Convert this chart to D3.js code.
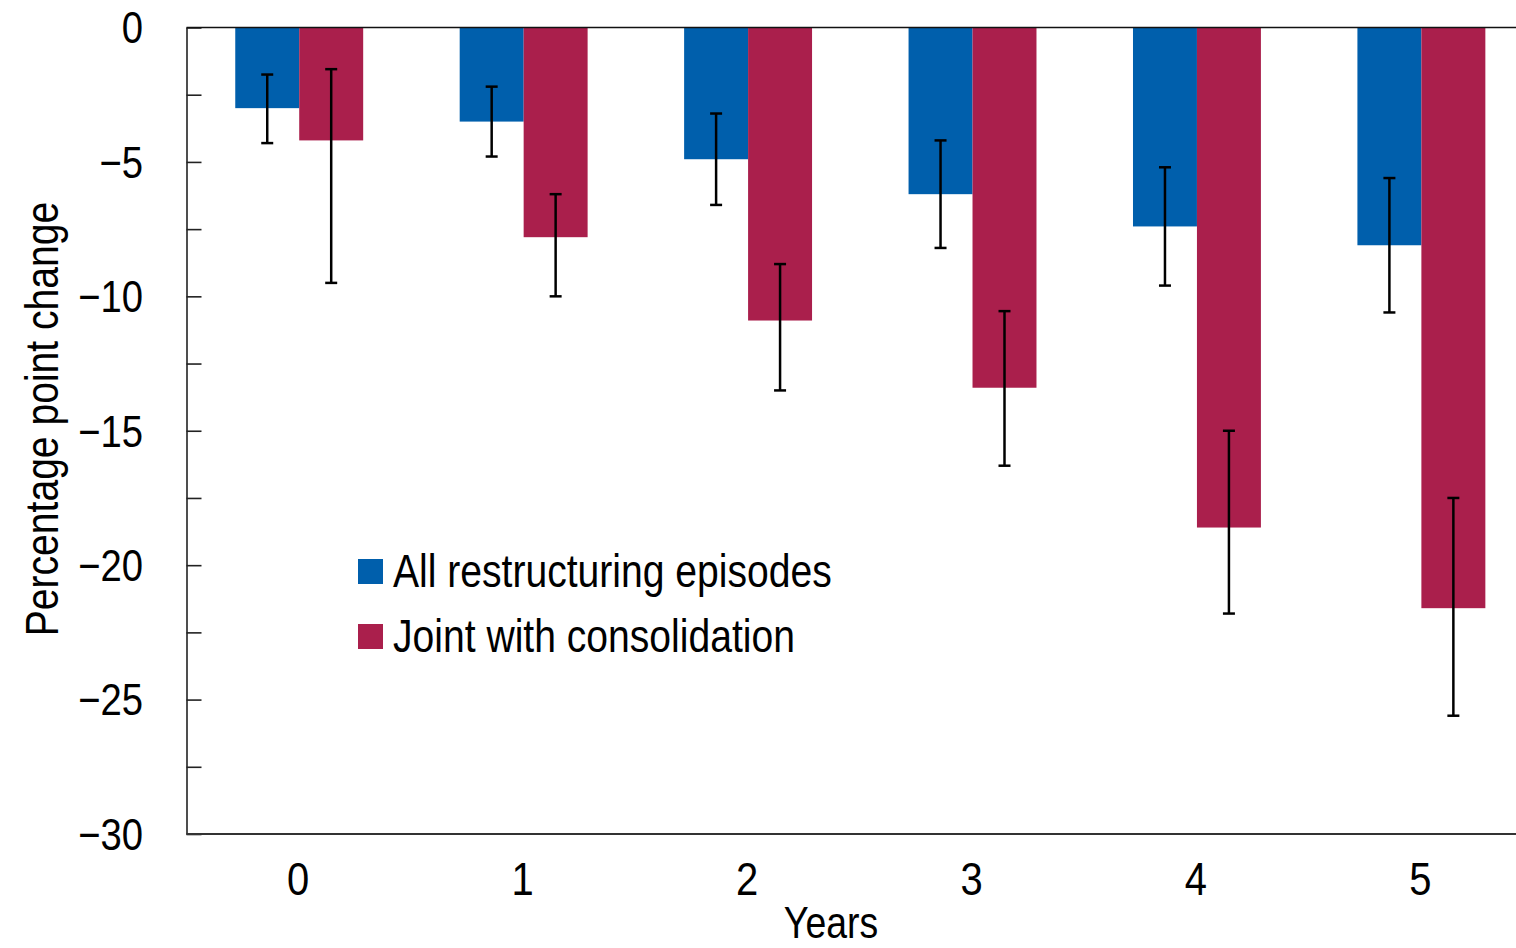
<!DOCTYPE html>
<html>
<head>
<meta charset="utf-8">
<script src="https://cdn.jsdelivr.net/npm/d3@7/dist/d3.min.js"></script>
<style>
  html, body { margin: 0; padding: 0; background: #fff; }
  svg { display: block; }
  text { font-family: "Liberation Sans", Arial, sans-serif; fill: #000; }
</style>
</head>
<body>
<script>
// Years after the restructuring episode
const years = ["0", "1", "2", "3", "4", "5"];

// All restructuring episodes: point estimate and confidence band
const allEpisodes     = [-3.0, -3.5, -4.9, -6.2, -7.4, -8.1];
const allEpisodesHigh = [-1.75, -2.2, -3.2, -4.2, -5.2, -5.6];
const allEpisodesLow  = [-4.3, -4.8, -6.6, -8.2, -9.6, -10.6];

// Restructuring joint with fiscal consolidation
const jointConsol     = [-4.2, -7.8, -10.9, -13.4, -18.6, -21.6];
const jointConsolHigh = [-1.55, -6.2, -8.8, -10.55, -15.0, -17.5];
const jointConsolLow  = [-9.5, -10.0, -13.5, -16.3, -21.8, -25.6];

const seriesNames  = ["All restructuring episodes", "Joint with consolidation"];
const seriesColors = ["#005FAC", "#AA1F4C"];

const yDomain     = [-30, 0];
const yTickValues = [0, -5, -10, -15, -20, -25, -30];
const yMinorStep  = 2.5;

const W = 1516, H = 948;
const NARROW = 0.85;   // horizontal squeeze for the condensed lettering

const svg = d3.select("body").append("svg")
  .attr("width", W).attr("height", H);

const plotLeft = 186.5, plotRight = 1516, plotTop = 27.5, plotBottom = 834;

const y = d3.scaleLinear().domain(yDomain).range([plotBottom, plotTop]);

const x = d3.scaleBand()
  .domain(years)
  .range([187, 1533.6])
  .paddingInner(0.43)
  .paddingOuter(0.215);

const xSeries = d3.scaleBand()
  .domain([0, 1])
  .range([0, x.bandwidth()])
  .padding(0);

const rows = years.map((yr, i) => ({
  year: yr,
  values: [
    { s: 0, v: allEpisodes[i], hi: allEpisodesHigh[i], lo: allEpisodesLow[i] },
    { s: 1, v: jointConsol[i], hi: jointConsolHigh[i], lo: jointConsolLow[i] }
  ]
}));

// Bars
const groups = svg.append("g").selectAll("g.grp")
  .data(rows).join("g")
  .attr("class", "grp")
  .attr("transform", d => `translate(${x(d.year)},0)`);

groups.selectAll("rect")
  .data(d => d.values).join("rect")
  .attr("x", d => xSeries(d.s))
  .attr("width", xSeries.bandwidth())
  .attr("y", d => y(0))
  .attr("height", d => y(d.v) - y(0))
  .attr("fill", d => seriesColors[d.s]);

// Error bars
const capHalf = 6;
const eb = groups.selectAll("g.err")
  .data(d => d.values).join("g")
  .attr("class", "err")
  .attr("stroke", "#000")
  .attr("stroke-width", 2.5);

eb.append("line")
  .attr("x1", d => xSeries(d.s) + xSeries.bandwidth() / 2)
  .attr("x2", d => xSeries(d.s) + xSeries.bandwidth() / 2)
  .attr("y1", d => y(d.hi))
  .attr("y2", d => y(d.lo));
eb.append("line")
  .attr("x1", d => xSeries(d.s) + xSeries.bandwidth() / 2 - capHalf)
  .attr("x2", d => xSeries(d.s) + xSeries.bandwidth() / 2 + capHalf)
  .attr("y1", d => y(d.hi)).attr("y2", d => y(d.hi));
eb.append("line")
  .attr("x1", d => xSeries(d.s) + xSeries.bandwidth() / 2 - capHalf)
  .attr("x2", d => xSeries(d.s) + xSeries.bandwidth() / 2 + capHalf)
  .attr("y1", d => y(d.lo)).attr("y2", d => y(d.lo));

// Y axis: inward ticks every 2.5 points
const minorTicks = d3.range(yDomain[1], yDomain[0] - 0.001, -yMinorStep);
const yAxis = d3.axisLeft(y)
  .tickValues(minorTicks)
  .tickSizeInner(-15)
  .tickSizeOuter(0)
  .tickFormat("");
const yAxisG = svg.append("g")
  .attr("transform", `translate(${plotLeft},0)`)
  .call(yAxis);
yAxisG.selectAll("path, line").attr("stroke", "#222").attr("stroke-width", 1.6);

// Horizontal frame lines at zero and at the bottom of the scale
svg.append("line")
  .attr("x1", plotLeft).attr("x2", plotRight)
  .attr("y1", y(0)).attr("y2", y(0))
  .attr("stroke", "#111").attr("stroke-width", 1.6);
svg.append("line")
  .attr("x1", plotLeft).attr("x2", plotRight)
  .attr("y1", y(yDomain[0])).attr("y2", y(yDomain[0]))
  .attr("stroke", "#333").attr("stroke-width", 1.8);

// Condensed text helper
function narrowText(parent, px, py, str, opts) {
  const o = Object.assign({ size: 46, anchor: "middle", rotate: 0, baseline: null }, opts);
  const t = parent.append("text")
    .attr("transform", `translate(${px},${py}) rotate(${o.rotate}) scale(${NARROW},1)`)
    .attr("text-anchor", o.anchor)
    .style("font-size", o.size + "px")
    .text(str);
  if (o.baseline) t.attr("dy", o.baseline);
  return t;
}

const fmt = d3.format("d");
const labels = svg.append("g");

// Y tick labels
yTickValues.forEach(v => {
  narrowText(labels, 143, y(v), fmt(v), { size: 45, anchor: "end", baseline: "0.35em" });
});

// X tick labels
years.forEach(yr => {
  narrowText(labels, x(yr) + x.bandwidth() / 2 - 1, 895, yr, { size: 47 });
});

// Axis titles
narrowText(labels, 831, 938, "Years", { size: 44 });
narrowText(labels, 58, 419, "Percentage point change", { size: 46, rotate: -90 });

// Legend
const legend = svg.append("g");
seriesNames.forEach((name, i) => {
  const ly = 559 + i * 65;
  legend.append("rect")
    .attr("x", 358).attr("y", ly)
    .attr("width", 25).attr("height", 25)
    .attr("fill", seriesColors[i]);
  narrowText(legend, 393, ly + 28, name, { size: 46, anchor: "start" });
});
</script>
</body>
</html>
